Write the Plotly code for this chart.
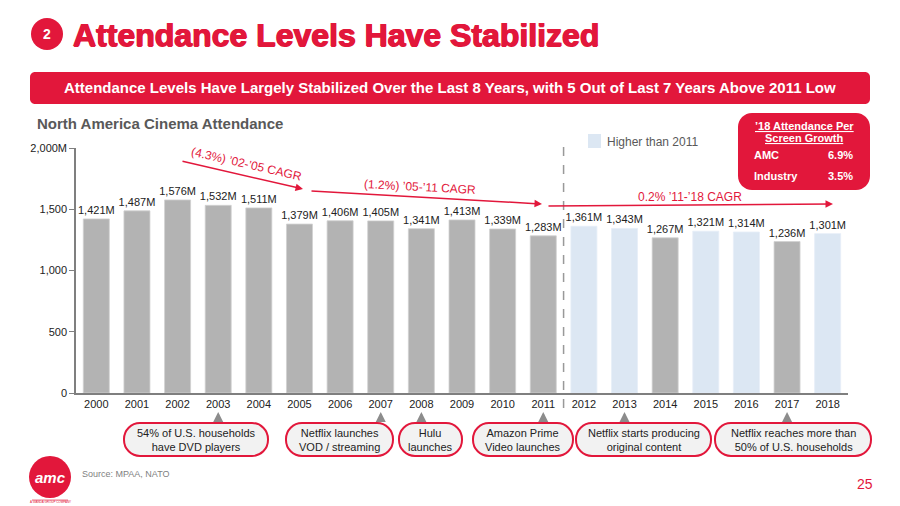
import plotly.graph_objects as go

# ---------------- data ----------------
years = [str(y) for y in range(2000, 2019)]
attendance = [1421, 1487, 1576, 1532, 1511, 1379, 1406, 1405, 1341, 1413,
              1339, 1283, 1361, 1343, 1267, 1321, 1314, 1236, 1301]
base_year = "2011"
y_tickvals = [0, 500, 1000, 1500, 2000]
y_ticktext = ["0", "500", "1,000", "1,500", "2,000M"]

cagr_texts = ["(4.3%) \u201902-\u201905 CAGR", "(1.2%) \u201905-\u201911 CAGR", "0.2% \u201911-\u201918 CAGR"]

event_years = ["2003", "2007", "2008", "2011", "2013", "2017"]
event_texts = ["54% of U.S. households<br>have DVD players",
               "Netflix launches<br>VOD / streaming",
               "Hulu<br>launches",
               "Amazon Prime<br>Video launches",
               "Netflix starts producing<br>original content",
               "Netflix reaches more than<br>50% of U.S. households"]

box_rows = ["AMC", "Industry"]
box_vals = ["6.9%", "3.5%"]

# ---------------- styling / layout helpers ----------------
RED = "#E2173B"
GRAY_BAR = "#B3B3B3"
BLUE_BAR = "#DCE7F3"
W, H = 900, 506
L, R, T, B = 76, 848, 148, 393


def px(X):
    return (X - L) / (R - L)


def py(Y):
    return (B - Y) / (B - T)


def rrect(x0, y0, x1, y1, r):
    k = 0.5523 * r
    def P(x, y):
        return f"{px(x):.5f},{py(y):.5f}"
    d = (f"M {P(x0 + r, y0)} L {P(x1 - r, y0)} "
         f"C {P(x1 - r + k, y0)} {P(x1, y0 + r - k)} {P(x1, y0 + r)} "
         f"L {P(x1, y1 - r)} "
         f"C {P(x1, y1 - r + k)} {P(x1 - r + k, y1)} {P(x1 - r, y1)} "
         f"L {P(x0 + r, y1)} "
         f"C {P(x0 + r - k, y1)} {P(x0, y1 - r + k)} {P(x0, y1 - r)} "
         f"L {P(x0, y0 + r)} "
         f"C {P(x0, y0 + r - k)} {P(x0 + r - k, y0)} {P(x0 + r, y0)} Z")
    return d


base_val = attendance[years.index(base_year)]
higher = [(int(y) > int(base_year)) and (v > base_val) for y, v in zip(years, attendance)]
gray_vals = [None if h else v for v, h in zip(attendance, higher)]
blue_vals = [v if h else None for v, h in zip(attendance, higher)]
labels = [f"{v:,}M" for v in attendance]

fig = go.Figure()
fig.add_trace(go.Bar(x=years, y=gray_vals, marker_color=GRAY_BAR, name="Other years",
                     marker_line=dict(color="#D0D0D0", width=0.8),
                     text=[l if not h else "" for l, h in zip(labels, higher)],
                     textposition="outside", constraintext="none", cliponaxis=False,
                     textfont=dict(size=11, color="#222222"), showlegend=False))
fig.add_trace(go.Bar(x=years, y=blue_vals, marker_color=BLUE_BAR, name="Higher than 2011",
                     marker_line=dict(color="#E6EEF7", width=0.8),
                     text=[l if h else "" for l, h in zip(labels, higher)],
                     textposition="outside", constraintext="none", cliponaxis=False,
                     textfont=dict(size=11, color="#222222"), showlegend=False))

shapes = []
annotations = []


def note(text, X, Y, size, color, anchor="center", angle=0, shadow=None):
    f = dict(size=size, color=color)
    if shadow:
        f["shadow"] = shadow
    annotations.append(dict(text=text, x=px(X), y=py(Y), xref="paper", yref="paper", showarrow=False,
                            xanchor=anchor, yanchor="middle", textangle=angle, font=f,
                            borderpad=0, borderwidth=0))


# header circle + title
shapes.append(dict(type="circle", xref="paper", yref="paper", x0=px(31), x1=px(63), y0=py(18), y1=py(50),
                   fillcolor=RED, line=dict(width=0)))
note("<b>2</b>", 47, 34, 14, "white")
note("<b>Attendance Levels Have Stabilized</b>", 73, 35, 32, RED, anchor="left",
     shadow=f"0.7px 0px 0px {RED}, -0.7px 0px 0px {RED}, 0px 0.5px 0px {RED}")
# banner
shapes.append(dict(type="path", xref="paper", yref="paper", path=rrect(30, 72, 870, 104, 5),
                   fillcolor=RED, line=dict(width=0)))
note("<b>Attendance Levels Have Largely Stabilized Over the Last 8 Years, with 5 Out of Last 7 Years Above 2011 Low</b>",
     450, 88, 15, "white")
# chart subtitle
note("<b>North America Cinema Attendance</b>", 37, 123, 15, "#595959", anchor="left")

# dashed divider between 2011 and 2012
shapes.append(dict(type="line", xref="x", yref="paper", x0=years.index(base_year) + 0.5,
                   x1=years.index(base_year) + 0.5, y0=py(408), y1=py(140),
                   line=dict(color="#999999", width=1.5, dash="dash")))

# legend swatch
shapes.append(dict(type="rect", xref="paper", yref="paper", x0=px(588), x1=px(601), y0=py(148), y1=py(134),
                   fillcolor=BLUE_BAR, line=dict(width=0)))
note("Higher than 2011", 607, 142, 12, "#595959", anchor="left")

# red info box
shapes.append(dict(type="path", xref="paper", yref="paper", path=rrect(738, 113, 870, 190, 14),
                   fillcolor=RED, line=dict(width=0)))
note("<b><u>\u201918 Attendance Per</u></b>", 804, 126, 11, "white")
note("<b><u>Screen Growth</u></b>", 804, 138, 11, "white")
for i, (rname, rval) in enumerate(zip(box_rows, box_vals)):
    yy = 155 + i * 21
    note(f"<b>{rname}</b>", 754, yy, 11, "white", anchor="left")
    note(f"<b>{rval}</b>", 853, yy, 11, "white", anchor="right")

# CAGR arrows
cagr_arrows = [((181, 161), (303, 189)), ((310, 191), (542, 204)), ((547, 206), (833, 204))]
cagr_label_pos = [(246, 164, 13), (420, 187, 3), (690, 197, 0)]
for (tail, tip), txt, (lx, ly, ang) in zip(cagr_arrows, cagr_texts, cagr_label_pos):
    annotations.append(dict(text="", x=px(tip[0]), y=py(tip[1]), xref="paper", yref="paper",
                            ax=tail[0] - tip[0], ay=tail[1] - tip[1], axref="pixel", ayref="pixel",
                            showarrow=True, arrowhead=2, arrowsize=1, arrowwidth=1.5, arrowcolor=RED,
                            standoff=0, startstandoff=0))
    note(txt, lx, ly, 12, RED, angle=ang)

# event pills
pill_extents = [(124, 268), (286, 393), (399, 462), (473, 573), (576, 711), (715, 871)]
for yr, txt, (x0, x1) in zip(event_years, event_texts, pill_extents):
    shapes.append(dict(type="path", xref="paper", yref="paper", path=rrect(x0, 423, x1, 456, 16),
                       fillcolor="#F2F2F2", line=dict(color=RED, width=2)))
    note(txt, (x0 + x1) / 2, 439.5, 11, "#222222")
    annotations.append(dict(text="", x=years.index(yr), y=py(412), xref="x", yref="paper", ax=0, ay=10,
                            axref="pixel", ayref="pixel", showarrow=True, arrowhead=2, arrowsize=1,
                            arrowwidth=2, arrowcolor="#8C8C8C", standoff=0))

# footer
shapes.append(dict(type="circle", xref="paper", yref="paper", x0=px(29), x1=px(71), y0=py(456), y1=py(498),
                   fillcolor=RED, line=dict(width=0)))
note("<b><i>amc</i></b>", 50, 477, 15, "white")
shapes.append(dict(type="line", xref="paper", yref="paper", x0=px(32), x1=px(68), y0=py(500), y1=py(500),
                   line=dict(color=RED, width=0.6)))
note("A WANDA GROUP COMPANY", 50, 502, 3, RED)
note("Source: MPAA, NATO", 82, 474, 9, "#7F7F7F", anchor="left")
note("25", 873, 484, 14, RED, anchor="right")

fig.update_layout(
    template="none",
    width=W, height=H, margin=dict(l=L, r=W - R, t=T, b=H - B, pad=0, autoexpand=False),
    paper_bgcolor="white", plot_bgcolor="white",
    barmode="overlay", bargap=0.36,
    font=dict(family="Liberation Sans, Arial, sans-serif", color="#222222"),
    shapes=shapes, annotations=annotations, showlegend=False,
    xaxis=dict(type="category", showgrid=False, showline=True, linecolor="#7F7F7F", linewidth=1.5,
               ticks="", tickfont=dict(size=11, color="#222222"), automargin=False,
               range=[-0.5, len(years) - 0.5], zeroline=False),
    yaxis=dict(range=[0, 2000], showgrid=False, zeroline=False, showline=True, linecolor="#7F7F7F",
               linewidth=1.5, ticks="outside", ticklen=5, tickcolor="#7F7F7F", automargin=False,
               tickvals=y_tickvals, ticktext=y_ticktext, tickfont=dict(size=11, color="#222222")),
)

fig.write_html("out.html", config={"displayModeBar": False},
               post_script="document.body.style.margin='0';document.body.style.overflow='hidden';")
